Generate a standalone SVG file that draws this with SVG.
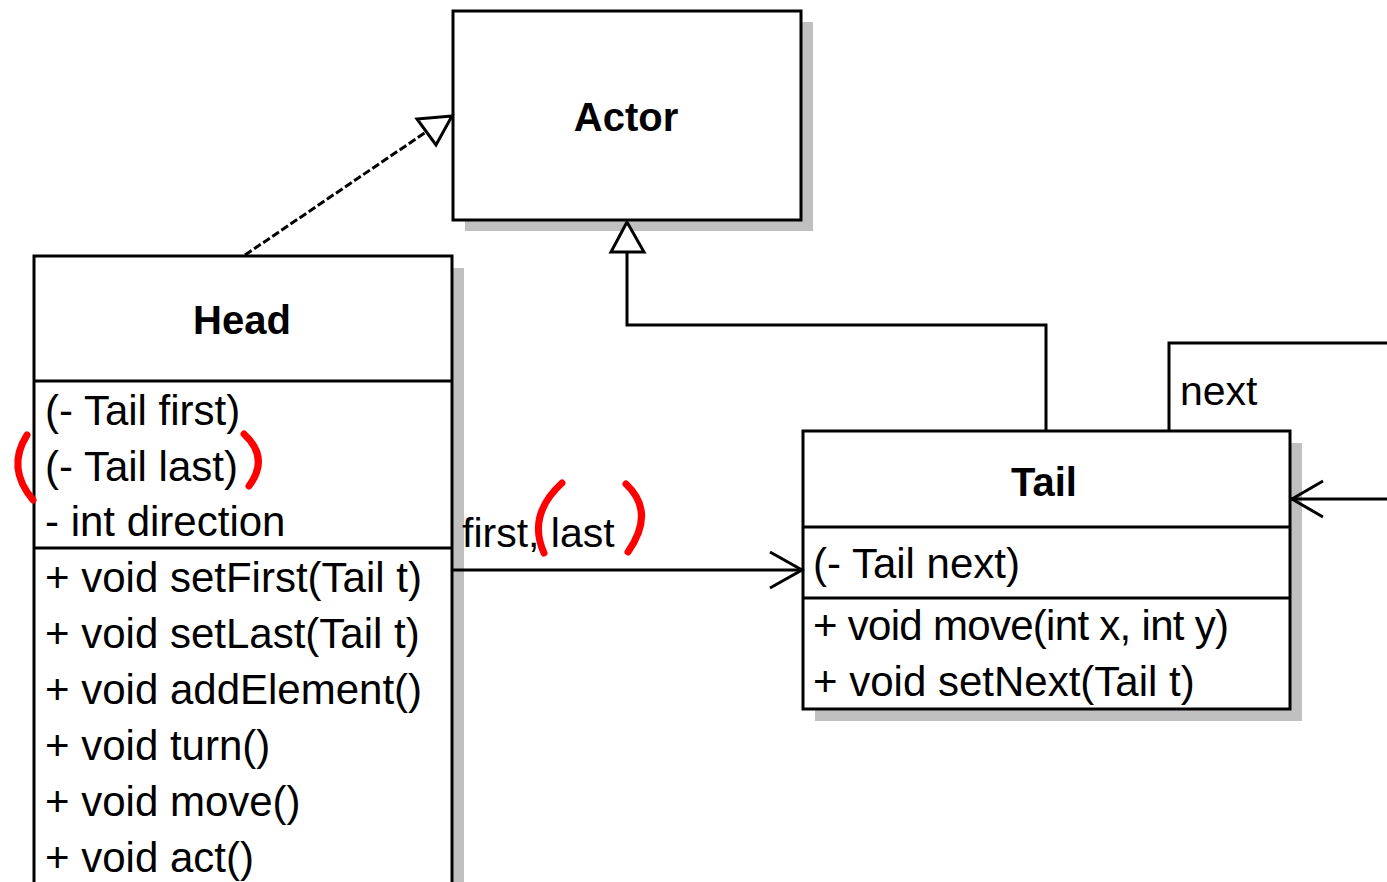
<svg xmlns="http://www.w3.org/2000/svg" width="1387" height="882" viewBox="0 0 1387 882">
  <style>
    .box { fill: #ffffff; stroke: #000000; stroke-width: 3; }
    .shadow { fill: #c0c0c0; stroke: none; }
    .sep { stroke: #000000; stroke-width: 3; }
    .title { font-family: "Liberation Sans", Arial, sans-serif; font-weight: bold; font-size: 40px; fill: #000000; text-anchor: middle; }
    .member { font-family: "Liberation Sans", Arial, sans-serif; font-size: 42px; fill: #000000; }
    .label { font-family: "Liberation Sans", Arial, sans-serif; font-size: 41px; fill: #000000; }
    .edge { fill: none; stroke: #000000; stroke-width: 3; }
    .dashed { fill: none; stroke: #000000; stroke-width: 3; stroke-dasharray: 8 3; }
    .hollow { fill: #ffffff; stroke: #000000; stroke-width: 3; stroke-linejoin: miter; }
    .mark { fill: none; stroke: #ff0000; stroke-width: 7; stroke-linecap: round; }
  </style>

  <rect width="1387" height="882" fill="#ffffff"/>

  <!-- class Actor -->
  <g id="actor">
    <rect class="shadow" x="465" y="22" width="348" height="209"/>
    <rect class="box" x="453" y="11" width="348" height="209"/>
    <text class="title" x="626" y="131">Actor</text>
  </g>

  <!-- class Head (continues below the visible area) -->
  <g id="head">
    <rect class="shadow" x="46" y="268" width="418" height="700"/>
    <rect class="box" x="34" y="256" width="418" height="700"/>
    <line class="sep" x1="34" y1="381" x2="452" y2="381"/>
    <line class="sep" x1="34" y1="548" x2="452" y2="548"/>
    <text class="title" x="242" y="334">Head</text>
    <text class="member" x="45" y="425">(- Tail first)</text>
    <text class="member" x="45" y="481">(- Tail last)</text>
    <text class="member" x="45" y="536">- int direction</text>
    <text class="member" x="45" y="592">+ void setFirst(Tail t)</text>
    <text class="member" x="45" y="648">+ void setLast(Tail t)</text>
    <text class="member" x="45" y="704">+ void addElement()</text>
    <text class="member" x="45" y="760">+ void turn()</text>
    <text class="member" x="45" y="816">+ void move()</text>
    <text class="member" x="45" y="872">+ void act()</text>
  </g>

  <!-- class Tail -->
  <g id="tail">
    <rect class="shadow" x="815" y="443" width="487" height="278"/>
    <rect class="box" x="803" y="431" width="487" height="278"/>
    <line class="sep" x1="803" y1="527" x2="1290" y2="527"/>
    <line class="sep" x1="803" y1="598" x2="1290" y2="598"/>
    <text class="title" x="1044" y="496">Tail</text>
    <text class="member" x="813" y="578">(- Tail next)</text>
    <text class="member" x="813" y="640" textLength="416" lengthAdjust="spacing">+ void move(int x, int y)</text>
    <text class="member" x="813" y="696">+ void setNext(Tail t)</text>
  </g>

  <!-- relationships -->
  <g id="connectors">
    <!-- Head realizes Actor -->
    <line class="dashed" x1="245" y1="255" x2="426" y2="132"/>
    <polygon class="hollow" points="452,116 417,119 436,145"/>

    <!-- Tail extends Actor -->
    <polyline class="edge" points="1046,431 1046,325 627,325 627,252"/>
    <polygon class="hollow" points="627,222 611,252 644,252"/>

    <!-- Head navigates to Tail -->
    <line class="edge" x1="453" y1="570" x2="802" y2="570"/>
    <polyline class="edge" points="770,552 802,570 770,588"/>
    <text class="label" x="462" y="547">first, last</text>

    <!-- Tail self reference -->
    <polyline class="edge" points="1169,431 1169,343 1390,343"/>
    <line class="edge" x1="1390" y1="499" x2="1291" y2="499"/>
    <polyline class="edge" points="1323,481 1292,499 1323,517"/>
    <text class="label" x="1180" y="405">next</text>
  </g>

  <!-- red pen marks -->
  <g id="annotations">
    <path class="mark" d="M27,435 Q6,468 33,500"/>
    <path class="mark" d="M244,434 Q270,458 249,486"/>
    <path class="mark" d="M562,483 Q527,515 544,553"/>
    <path class="mark" d="M626,484 Q656,512 628,552"/>
  </g>
</svg>
